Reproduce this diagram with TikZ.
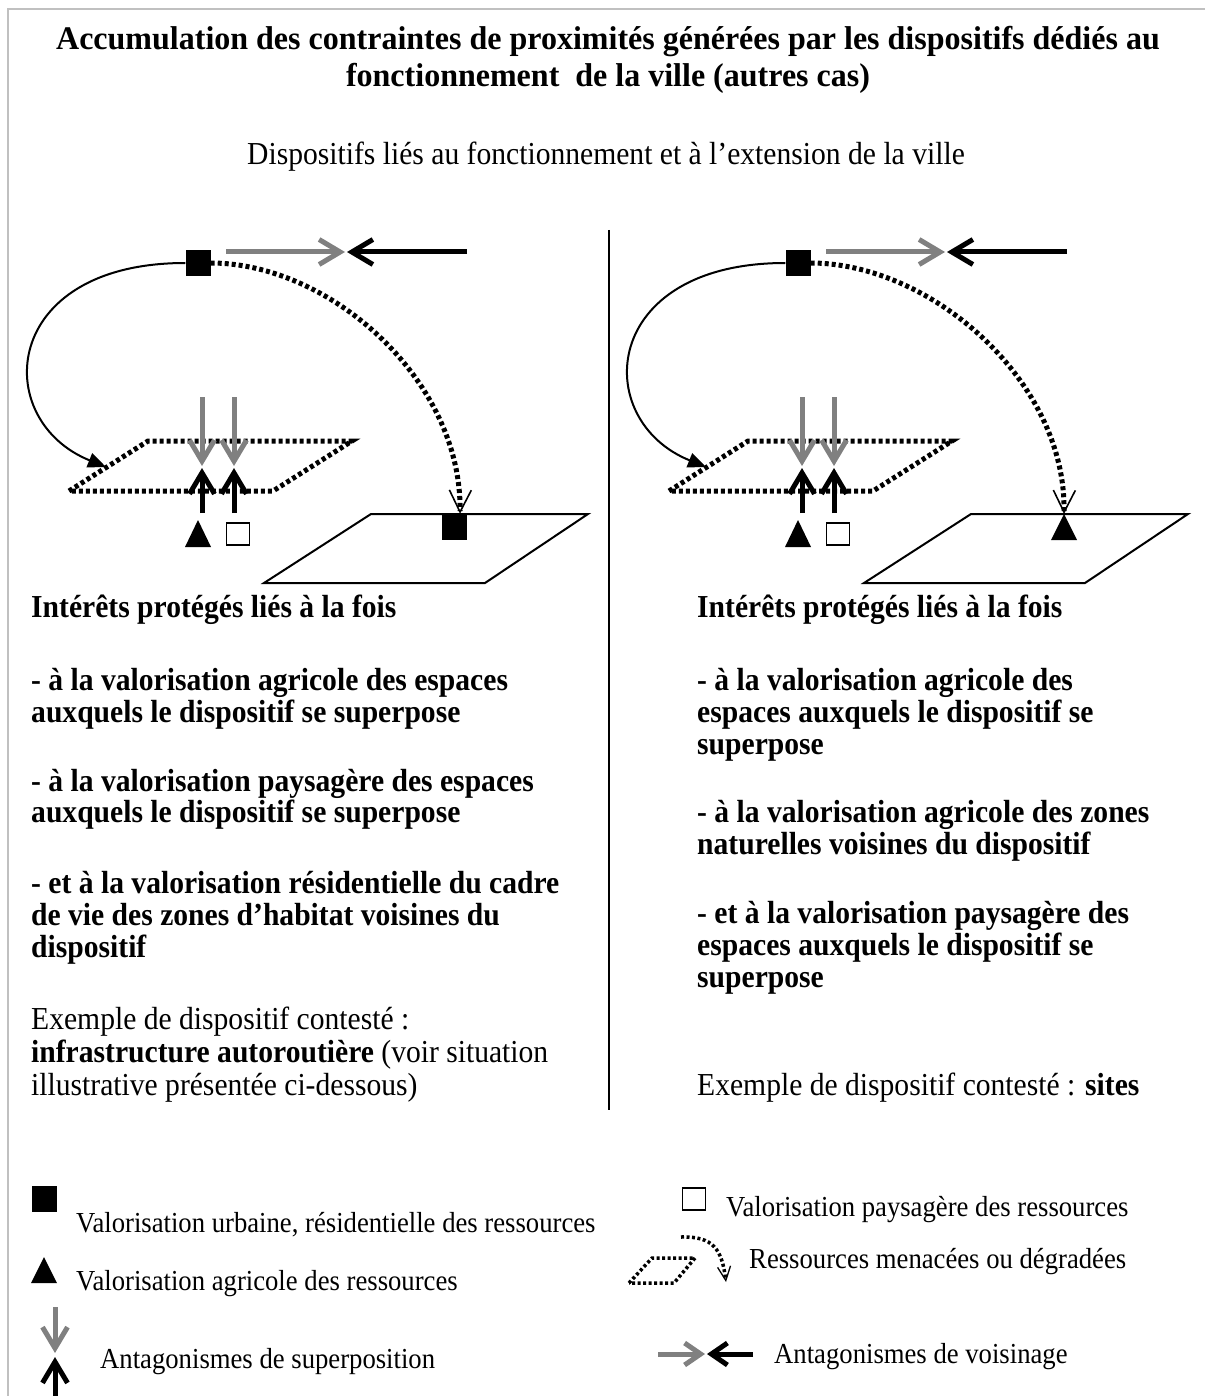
\documentclass[tikz,border=0pt]{standalone}
\usepackage{fontspec}
\setmainfont{Liberation Serif}[FakeStretch=0.925]
\newfontfamily\titlefont{Liberation Serif}[FakeStretch=0.97]
\newfontfamily\legfont{Liberation Serif}[FakeStretch=0.92]
\usetikzlibrary{arrows.meta}
\definecolor{framegray}{HTML}{C0C0C0}
\definecolor{arrgray}{HTML}{808080}
\begin{document}
\begin{tikzpicture}[x=1pt,y=-1pt,
  ttl/.style={font=\titlefont\fontsize{33}{37}\selectfont\bfseries, anchor=base, inner sep=0},
  body/.style={font=\fontsize{32}{33}\selectfont, anchor=base west, inner sep=0},
  bodyb/.style={font=\fontsize{32}{33}\selectfont\bfseries, anchor=base west, inner sep=0},
  leg/.style={font=\legfont\fontsize{29}{33}\selectfont, anchor=base west, inner sep=0},
  blacksq/.style={fill=black, draw=none, minimum width=25pt, minimum height=26pt, inner sep=0},
  opensq/.style={draw=black, line width=1.6pt, fill=white, minimum width=23pt, minimum height=22pt, inner sep=0},
  grayarr/.style={draw=arrgray, line width=5pt, -{Straight Barb[length=21pt, width=25pt]}},
  blackarr/.style={draw=black, line width=5pt, -{Straight Barb[length=21pt, width=25pt]}},
  dpar/.style={line width=5pt, dash pattern=on 4pt off 3pt},
  darr/.style={line width=5pt, dash pattern=on 4pt off 3pt, -{Straight Barb[length=22pt,width=22pt,line width=1.6pt]}},
  curvarr/.style={line width=2pt, -{Triangle[length=18pt,width=15pt]}},
  solidpar/.style={line width=2pt}
]
\fill[white] (0,0) rectangle (1204,1396);
\useasboundingbox (0,0) rectangle (1204,1396);
% frame
\draw[framegray, line width=2.5pt] (8,1400) -- (8,9) -- (1208,9);
% titles
\node[ttl] (t1) at (608,50) {Accumulation des contraintes de proximités générées par les dispositifs dédiés au};
\node[ttl] (t2) at (608,87) {fonctionnement\ \ de la ville (autres cas)};
\node[body, anchor=base] (st) at (606,165) {Dispositifs liés au fonctionnement et à l’extension de la ville};
% divider
\draw[line width=2pt] (609,230) -- (609,1110);

% ===== left diagram =====
\coordinate (pBLl) at (69,491); \coordinate (pTLl) at (148,441);
\coordinate (pTRl) at (352,441); \coordinate (pBRl) at (273,491);
\draw[dpar] (pBLl) -- (pTLl) -- (pTRl) -- (pBRl) -- cycle;
\coordinate (sBLl) at (264,583); \coordinate (sTLl) at (371,514);
\coordinate (sTRl) at (588,514); \coordinate (sBRl) at (485,583);
\draw[solidpar] (sBLl) -- (sTLl) -- (sTRl) -- (sBRl) -- cycle;
\node[blacksq] (srcL) at (198,263) {};
\node[blacksq] (tgtL) at (454,527) {};
\coordinate (gaL1) at (226,252); \coordinate (gaL2) at (345,252);
\coordinate (baL1) at (467,252); \coordinate (baL2) at (347,252);
\draw[grayarr] (gaL1) -- (gaL2);
\draw[blackarr] (baL1) -- (baL2);
\coordinate (cvL) at (106,467);
\draw[curvarr] (srcL.west) .. controls (0,263) and (-10,420) .. (cvL);
\draw[darr] (srcL.east) .. controls (330,263) and (462,380) .. ([xshift=6pt]tgtL.north);
\coordinate (dL1s) at (202,397); \coordinate (dL1e) at (202,466);
\coordinate (dL2s) at (234,397); \coordinate (dL2e) at (234,466);
\coordinate (uL1s) at (202,513); \coordinate (uL1e) at (202,468);
\coordinate (uL2s) at (234,513); \coordinate (uL2e) at (234,468);
\draw[grayarr] (dL1s) -- (dL1e);
\draw[grayarr] (dL2s) -- (dL2e);
\draw[blackarr] (uL1s) -- (uL1e);
\draw[blackarr] (uL2s) -- (uL2e);
\coordinate (triL) at (198,534);
\fill (triL) ++(-13,13) -- ++(26,0) -- ++(-13,-27) -- cycle;
\node[opensq] (osqL) at (238,534) {};

% ===== right diagram =====
\coordinate (pBLr) at (669,491); \coordinate (pTLr) at (748,441);
\coordinate (pTRr) at (952,441); \coordinate (pBRr) at (873,491);
\draw[dpar] (pBLr) -- (pTLr) -- (pTRr) -- (pBRr) -- cycle;
\coordinate (sBLr) at (864,583); \coordinate (sTLr) at (971,514);
\coordinate (sTRr) at (1188,514); \coordinate (sBRr) at (1085,583);
\draw[solidpar] (sBLr) -- (sTLr) -- (sTRr) -- (sBRr) -- cycle;
\node[blacksq] (srcR) at (798,263) {};
\coordinate (tgtR) at (1064,514);
\fill (tgtR) ++(-13,26) -- ++(26,0) -- ++(-13,-26) -- cycle;
\coordinate (gaR1) at (826,252); \coordinate (gaR2) at (945,252);
\coordinate (baR1) at (1067,252); \coordinate (baR2) at (947,252);
\draw[grayarr] (gaR1) -- (gaR2);
\draw[blackarr] (baR1) -- (baR2);
\coordinate (cvR) at (706,467);
\draw[curvarr] (srcR.west) .. controls (600,263) and (590,420) .. (cvR);
\draw[darr] (srcR.east) .. controls (930,263) and (1066,380) .. (tgtR);
\coordinate (dR1s) at (802,397); \coordinate (dR1e) at (802,466);
\coordinate (dR2s) at (834,397); \coordinate (dR2e) at (834,466);
\coordinate (uR1s) at (802,513); \coordinate (uR1e) at (802,468);
\coordinate (uR2s) at (834,513); \coordinate (uR2e) at (834,468);
\draw[grayarr] (dR1s) -- (dR1e);
\draw[grayarr] (dR2s) -- (dR2e);
\draw[blackarr] (uR1s) -- (uR1e);
\draw[blackarr] (uR2s) -- (uR2e);
\coordinate (triR) at (798,534);
\fill (triR) ++(-13,13) -- ++(26,0) -- ++(-13,-27) -- cycle;
\node[opensq] (osqR) at (838,534) {};

% ===== left text =====
\node[bodyb] (lt1) at (31,617) {Intérêts protégés liés à la fois};
\node[bodyb] (lt2) at (31,690) {- à la valorisation agricole des espaces};
\node[bodyb] (lt3) at (31,722) {auxquels le dispositif se superpose};
\node[bodyb] (lt4) at (31,791) {- à la valorisation paysagère des espaces};
\node[bodyb] (lt5) at (31,822) {auxquels le dispositif se superpose};
\node[bodyb] (lt6) at (31,893) {- et à la valorisation résidentielle du cadre};
\node[bodyb] (lt7) at (31,925) {de vie des zones d’habitat voisines du};
\node[bodyb] (lt8) at (31,957) {dispositif};
\node[body] (lt9) at (31,1029) {Exemple de dispositif contesté :};
\node[body] (lt10) at (31,1062) {\textbf{infrastructure autoroutière} (voir situation};
\node[body] (lt11) at (31,1095) {illustrative présentée ci-dessous)};

% ===== right text =====
\node[bodyb] (rt1) at (697,617) {Intérêts protégés liés à la fois};
\node[bodyb] (rt2) at (697,690) {- à la valorisation agricole des};
\node[bodyb] (rt3) at (697,722) {espaces auxquels le dispositif se};
\node[bodyb] (rt4) at (697,754) {superpose};
\node[bodyb] (rt5) at (697,822) {- à la valorisation agricole des zones};
\node[bodyb] (rt6) at (697,854) {naturelles voisines du dispositif};
\node[bodyb] (rt7) at (697,923) {- et à la valorisation paysagère des};
\node[bodyb] (rt8) at (697,955) {espaces auxquels le dispositif se};
\node[bodyb] (rt9) at (697,987) {superpose};
\node[body] (rt10) at (697,1095) {Exemple de dispositif contesté : \textbf{sites}};

% ===== legend =====
\node[blacksq] (lgsq) at (44,1199) {};
\node[leg] (lgt1) at (76,1232) {Valorisation urbaine, résidentielle des ressources};
\coordinate (lgtri) at (44,1270);
\fill (lgtri) ++(-13,13) -- ++(26,0) -- ++(-13,-26) -- cycle;
\node[leg] (lgt2) at (76,1290) {Valorisation agricole des ressources};
\coordinate (lgd1) at (55,1307); \coordinate (lgd2) at (55,1353);
\coordinate (lgu1) at (55,1400); \coordinate (lgu2) at (55,1357);
\draw[grayarr] (lgd1) -- (lgd2);
\draw[blackarr] (lgu1) -- (lgu2);
\node[leg] (lgt3) at (100,1368) {Antagonismes de superposition};

\node[opensq] (lgosq) at (694,1199) {};
\node[leg] (lgt4) at (726,1216) {Valorisation paysagère des ressources};
\coordinate (lpBL) at (629,1283); \coordinate (lpTL) at (652,1258);
\coordinate (lpTR) at (695,1258); \coordinate (lpBR) at (674,1283);
\draw[line width=3.5pt, dash pattern=on 3pt off 2.5pt] (lpBL) -- (lpTL) -- (lpTR) -- (lpBR) -- cycle;
\coordinate (lda1) at (681,1237); \coordinate (lda2) at (726,1282);
\draw[line width=3.5pt, dash pattern=on 3pt off 2.5pt, -{Straight Barb[length=14pt,width=13pt,line width=1.3pt]}] (lda1) .. controls (714,1236) and (722,1250) .. (lda2);
\node[leg] (lgt5) at (749,1268) {Ressources menacées ou dégradées};
\coordinate (lgr1) at (658,1354); \coordinate (lgr2) at (705,1354);
\coordinate (lgl1) at (753,1354); \coordinate (lgl2) at (707,1354);
\draw[draw=arrgray, line width=5pt, -{Straight Barb[length=16pt, width=22pt]}] (lgr1) -- (lgr2);
\draw[draw=black, line width=5pt, -{Straight Barb[length=16pt, width=22pt]}] (lgl1) -- (lgl2);
\node[leg] (lgt6) at (774,1363) {Antagonismes de voisinage};
\end{tikzpicture}
\end{document}
